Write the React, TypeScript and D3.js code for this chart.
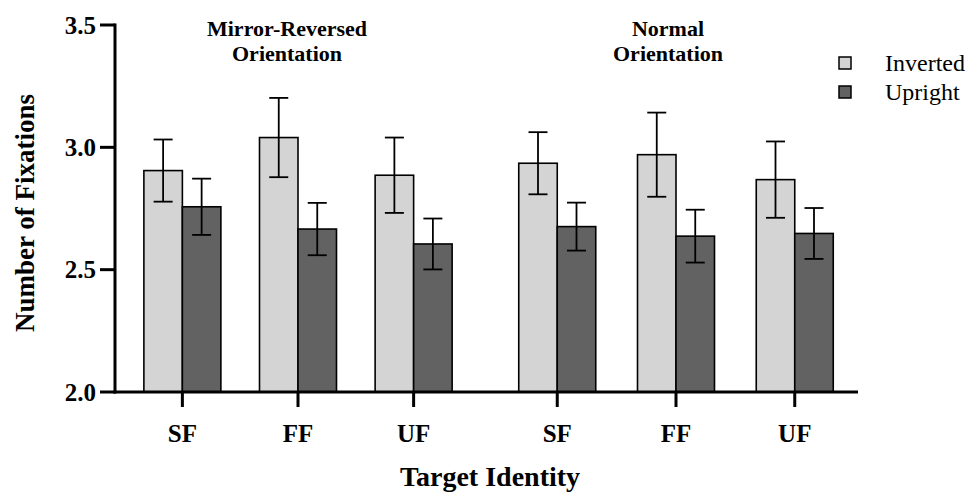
import React from "react";
import * as d3 from "d3";

const categories = ["SF", "FF", "UF"];
const panelTitles = [["Mirror-Reversed", "Orientation"], ["Normal", "Orientation"]];
const seriesNames = ["Inverted", "Upright"];
const seriesColors = ["#d4d4d4", "#626262"];

const invertedMirror = [2.905, 3.04, 2.886];
const invertedMirrorErr = [0.127, 0.162, 0.154];
const uprightMirror = [2.757, 2.666, 2.605];
const uprightMirrorErr = [0.115, 0.107, 0.104];
const invertedNormal = [2.935, 2.97, 2.868];
const invertedNormalErr = [0.127, 0.172, 0.156];
const uprightNormal = [2.676, 2.637, 2.648];
const uprightNormalErr = [0.098, 0.108, 0.104];

const yTicks = [2.0, 2.5, 3.0, 3.5];

const W = 973;
const H = 495;
const FONT = "'Liberation Serif', 'Times New Roman', serif";

export default function App() {
  const y = d3.scaleLinear().domain([2, 3.5]).range([392, 25]);
  const xPanels = [
    d3.scalePoint().domain(categories).range([113, 483]).padding(0.6),
    d3.scalePoint().domain(categories).range([486, 866]).padding(0.6),
  ];
  const panelData = [
    [
      { v: invertedMirror, e: invertedMirrorErr },
      { v: uprightMirror, e: uprightMirrorErr },
    ],
    [
      { v: invertedNormal, e: invertedNormalErr },
      { v: uprightNormal, e: uprightNormalErr },
    ],
  ];
  const bw = 38.5;
  const capW = 19;
  const baseY = y(2);
  const titleX = [287, 668];

  return (
    <svg width={W} height={H} style={{ position: "absolute", left: 0, top: 0, background: "#fff" }}>
      <style>{`body{margin:0}`}</style>
      {/* bars */}
      {panelData.map((series, pi) =>
        series.map((s, si) =>
          categories.map((c, ci) => {
            const cx = xPanels[pi](c)!;
            const x0 = cx - bw + si * bw;
            const top = y(s.v[ci]);
            return (
              <rect
                key={`b${pi}-${si}-${ci}`}
                x={x0}
                y={top}
                width={bw}
                height={baseY - top}
                fill={seriesColors[si]}
                stroke="#000"
                strokeWidth={1.6}
              />
            );
          })
        )
      )}
      {/* error bars */}
      {panelData.map((series, pi) =>
        series.map((s, si) =>
          categories.map((c, ci) => {
            const cx = xPanels[pi](c)!;
            const mx = cx - bw / 2 + si * bw;
            const hi = y(s.v[ci] + s.e[ci]);
            const lo = y(s.v[ci] - s.e[ci]);
            return (
              <g key={`e${pi}-${si}-${ci}`} stroke="#000" strokeWidth={1.8}>
                <line x1={mx} x2={mx} y1={hi} y2={lo} />
                <line x1={mx - capW / 2} x2={mx + capW / 2} y1={hi} y2={hi} />
                <line x1={mx - capW / 2} x2={mx + capW / 2} y1={lo} y2={lo} />
              </g>
            );
          })
        )
      )}
      {/* y axis */}
      <line x1={115} x2={115} y1={y(3.5) - 1.5} y2={baseY + 1.5} stroke="#000" strokeWidth={3} />
      {yTicks.map((t) => (
        <g key={`yt${t}`}>
          <line x1={100} x2={115} y1={y(t)} y2={y(t)} stroke="#000" strokeWidth={3} />
          <text
            x={96}
            y={y(t)}
            dy="0.35em"
            textAnchor="end"
            fontFamily={FONT}
            fontWeight="bold"
            fontSize={25}
            fill="#000"
          >
            {t.toFixed(1)}
          </text>
        </g>
      ))}
      {/* x axis */}
      <line x1={113.5} x2={858} y1={baseY} y2={baseY} stroke="#000" strokeWidth={3} />
      {xPanels.map((xs, pi) =>
        categories.map((c) => (
          <g key={`xt${pi}${c}`}>
            <line x1={xs(c)!} x2={xs(c)!} y1={baseY} y2={baseY + 15} stroke="#000" strokeWidth={3} />
            <text
              x={xs(c)!}
              y={442}
              textAnchor="middle"
              fontFamily={FONT}
              fontWeight="bold"
              fontSize={25}
              fill="#000"
            >
              {c}
            </text>
          </g>
        ))
      )}
      {/* panel titles */}
      {panelTitles.map((lines, pi) =>
        lines.map((ln, li) => (
          <text
            key={`pt${pi}${li}`}
            x={titleX[pi]}
            y={36 + li * 25}
            textAnchor="middle"
            fontFamily={FONT}
            fontWeight="bold"
            fontSize={22}
            fill="#000"
          >
            {ln}
          </text>
        ))
      )}
      {/* axis titles */}
      <text
        x={490}
        y={486}
        textAnchor="middle"
        fontFamily={FONT}
        fontWeight="bold"
        fontSize={28}
        fill="#000"
      >
        Target Identity
      </text>
      <text
        transform={`translate(34, 213) rotate(-90)`}
        textAnchor="middle"
        fontFamily={FONT}
        fontWeight="bold"
        fontSize={27}
        fill="#000"
      >
        Number of Fixations
      </text>
      {/* legend */}
      {seriesNames.map((n, i) => (
        <g key={`lg${n}`}>
          <rect x={839} y={57 + i * 29} width={12} height={12} fill={seriesColors[i]} stroke="#000" strokeWidth={1.5} />
          <text x={885} y={71 + i * 29} fontFamily={FONT} fontSize={24} fill="#000">
            {n}
          </text>
        </g>
      ))}
    </svg>
  );
}
